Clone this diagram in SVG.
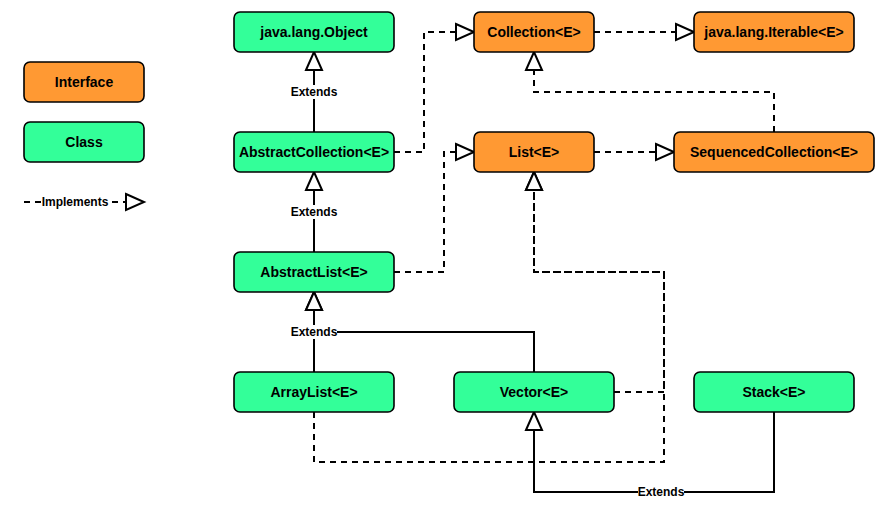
<svg xmlns="http://www.w3.org/2000/svg" width="885" height="522" viewBox="0 0 885 522">
<style>
.box{stroke:#000;stroke-width:1.6}
.iface{fill:#FF9933}
.cls{fill:#33FF99}
.t{font-family:"Liberation Sans",Arial,Helvetica,sans-serif;font-weight:bold;font-size:14px;text-anchor:middle;fill:#000}
.lbl{font-family:"Liberation Sans",Arial,Helvetica,sans-serif;font-weight:bold;font-size:12px;text-anchor:middle;fill:#000}
.lblbg{fill:#fff}
.ext{fill:none;stroke:#000;stroke-width:2;marker-end:url(#tri)}
.impl{fill:none;stroke:#000;stroke-width:2;stroke-dasharray:6 5;marker-end:url(#tri)}
</style>
<defs>
<marker id="tri" markerUnits="userSpaceOnUse" markerWidth="20" markerHeight="18" refX="18" refY="8" orient="auto" overflow="visible">
<path d="M0,0 L18,8 L0,16 Z" fill="#fff" stroke="#000" stroke-width="2" stroke-dasharray="none"/>
</marker>
</defs>
<rect width="885" height="522" fill="#fff"/>
<g id="connectors">
<path class="ext" d="M314,132 V52"/>
<path class="ext" d="M314,252 V172"/>
<path class="ext" d="M314,372 V292"/>
<path class="ext" d="M534,372 V332 H314 V292"/>
<path class="ext" d="M774,412 V492 H534 V412"/>
<path class="impl" d="M394,152 H424 V32 H474"/>
<path class="impl" d="M394,272 H444 V152 H474"/>
<path class="impl" d="M594,32 H694"/>
<path class="impl" d="M594,152 H674"/>
<path class="impl" d="M774,132 V92 H534 V52"/>
<path class="impl" d="M614,392 H664 V272 H534 V172"/>
<path class="impl" d="M314,412 V462 H664 V272 H534 V172"/>
<rect class="lblbg" x="291" y="85" width="46" height="14"/>
<text class="lbl" x="314" y="96.3">Extends</text>
<rect class="lblbg" x="291" y="205" width="46" height="14"/>
<text class="lbl" x="314" y="216.3">Extends</text>
<rect class="lblbg" x="291" y="325" width="46" height="14"/>
<text class="lbl" x="314" y="336.3">Extends</text>
<rect class="lblbg" x="638" y="485" width="46" height="14"/>
<text class="lbl" x="661" y="496.3">Extends</text>
</g>
<g id="legend">
<g id="legend-interface"><rect class="box iface" x="24" y="62" width="120" height="40" rx="6"/><text class="t" x="84" y="87">Interface</text></g>
<g id="legend-class"><rect class="box cls" x="24" y="122" width="120" height="40" rx="6"/><text class="t" x="84" y="147">Class</text></g>
<g id="legend-implements">
<path class="impl" d="M24,202 H144"/>
<rect class="lblbg" x="41" y="195" width="68" height="14"/>
<text class="lbl" x="75" y="206.3">Implements</text>
</g>
</g>
<g id="object"><rect class="box cls" x="234" y="12" width="160" height="40" rx="6"/><text class="t" x="314" y="37">java.lang.Object</text></g>
<g id="collection"><rect class="box iface" x="474" y="12" width="120" height="40" rx="6"/><text class="t" x="534" y="37">Collection&lt;E&gt;</text></g>
<g id="iterable"><rect class="box iface" x="694" y="12" width="160" height="40" rx="6"/><text class="t" x="774" y="37">java.lang.Iterable&lt;E&gt;</text></g>
<g id="abstractcollection"><rect class="box cls" x="234" y="132" width="160" height="40" rx="6"/><text class="t" x="314" y="157">AbstractCollection&lt;E&gt;</text></g>
<g id="list"><rect class="box iface" x="474" y="132" width="120" height="40" rx="6"/><text class="t" x="534" y="157">List&lt;E&gt;</text></g>
<g id="sequencedcollection"><rect class="box iface" x="674" y="132" width="200" height="40" rx="6"/><text class="t" x="774" y="157">SequencedCollection&lt;E&gt;</text></g>
<g id="abstractlist"><rect class="box cls" x="234" y="252" width="160" height="40" rx="6"/><text class="t" x="314" y="277">AbstractList&lt;E&gt;</text></g>
<g id="arraylist"><rect class="box cls" x="234" y="372" width="160" height="40" rx="6"/><text class="t" x="314" y="397">ArrayList&lt;E&gt;</text></g>
<g id="vector"><rect class="box cls" x="454" y="372" width="160" height="40" rx="6"/><text class="t" x="534" y="397">Vector&lt;E&gt;</text></g>
<g id="stack"><rect class="box cls" x="694" y="372" width="160" height="40" rx="6"/><text class="t" x="774" y="397">Stack&lt;E&gt;</text></g>
</svg>
